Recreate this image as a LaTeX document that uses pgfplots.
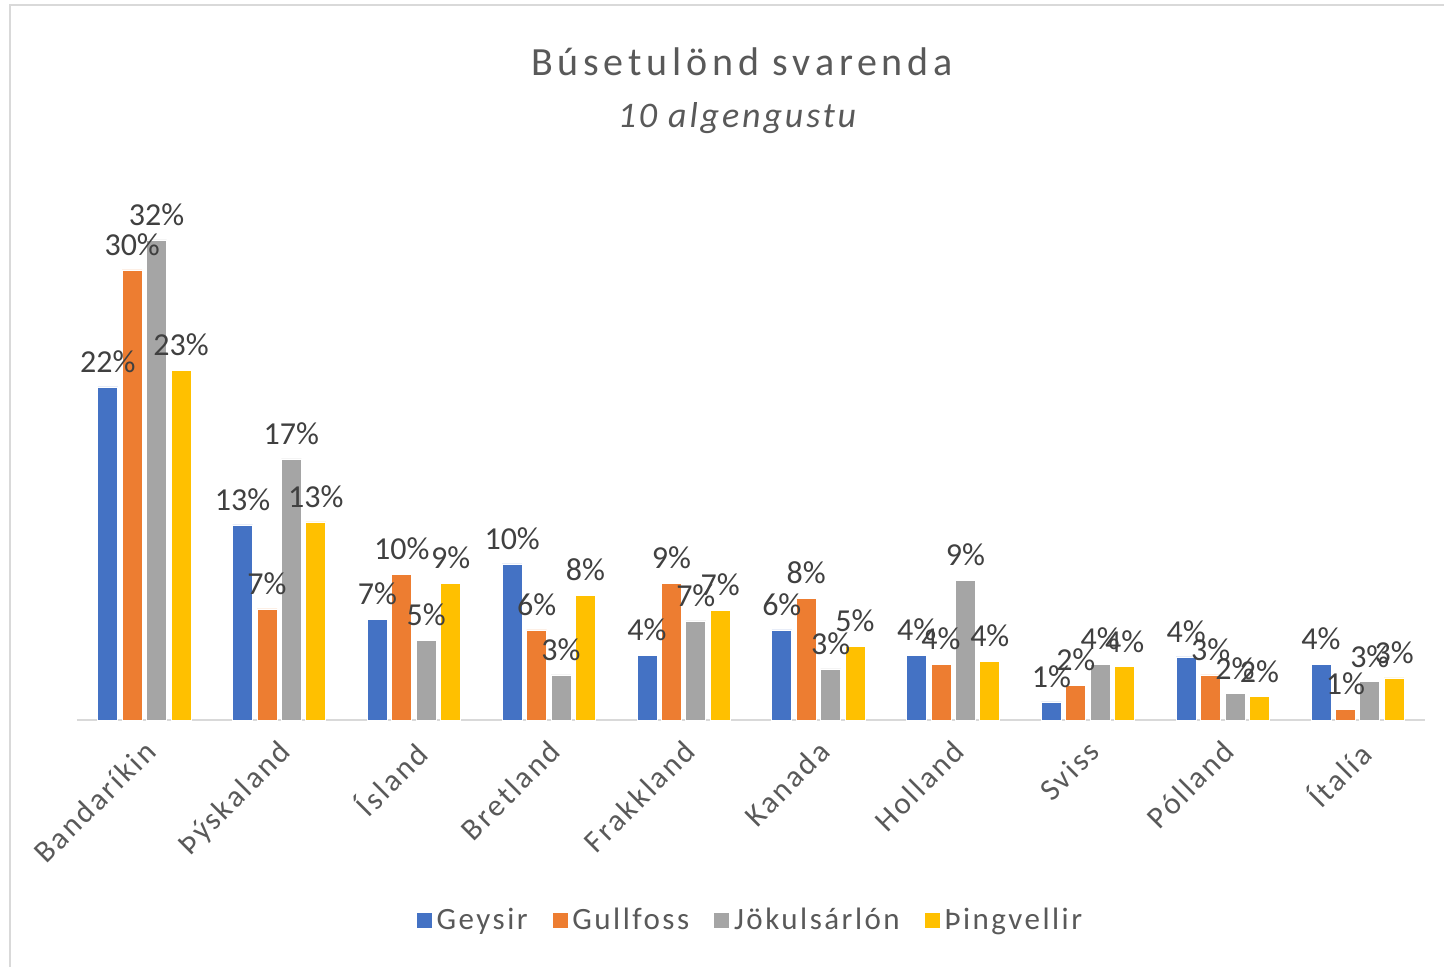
\documentclass[border=0pt]{standalone}
\usepackage{fontspec}
\setmainfont{Carlito}
\newfontfamily\spaced[LetterSpace=8]{Carlito}
\newfontfamily\titlefont[LetterSpace=12]{Carlito}
\usepackage{pgfplots}
\pgfplotsset{compat=1.18}
\usepackage{pgfplotstable}
\definecolor{cBlue}{HTML}{4472C4}
\definecolor{cOrange}{HTML}{ED7D31}
\definecolor{cGray}{HTML}{A5A5A5}
\definecolor{cYellow}{HTML}{FFC000}
\definecolor{txt}{HTML}{595959}
\definecolor{lbl}{HTML}{404040}
\definecolor{axl}{HTML}{D9D9D9}

\pgfplotstableread{
x geysir gullfoss jokul thing
0 22.2 30.0 32.0 23.3
1 13.0 7.4 17.4 13.2
2 6.7 9.7 5.3 9.1
3 10.4 6.0 3.0 8.3
4 4.3 9.1 6.6 7.3
5 6.0 8.1 3.4 4.9
6 4.3 3.7 9.3 3.9
7 1.2 2.3 3.7 3.55
8 4.2 3.0 1.75 1.55
9 3.7 0.7 2.55 2.8
}\data

\begin{document}
\begin{tikzpicture}
\begin{axis}[
  scale only axis, width=674pt, height=270pt,
  xmin=-0.5, xmax=9.5, ymin=0, ymax=36,
  clip=false,
  ybar=2.2pt, bar width=10pt,
  axis x line*=bottom, axis y line=none,
  x axis line style={axl, line width=1.4pt, -},
  xtick=data, major tick length=0pt,
  xticklabels={Bandaríkin,Þýskaland,Ísland,Bretland,Frakkland,Kanada,Holland,Sviss,Pólland,Ítalía},
  xticklabel style={xshift=-1pt, yshift=-9pt, rotate=45, anchor=north east, inner sep=0pt,
     font=\fontsize{15.5}{18}\selectfont\spaced, text=txt},
  nodes near coords={\pgfmathprintnumber[fixed,precision=0,assume math mode=true]{\pgfplotspointmeta}\%},
  every node near coord/.append style={font=\fontsize{16}{19}\selectfont, text=lbl, inner sep=1pt, anchor=south, yshift=6pt},
  legend columns=4,
  legend style={at={(axis description cs:0.5,0)}, anchor=center, yshift=-100pt, draw=none,
     font=\fontsize{15.5}{18}\selectfont\spaced, text=txt,
     /tikz/every even column/.append style={column sep=10pt}},
  legend image code/.code={\fill[#1] (0pt,-4pt) rectangle (8pt,4pt);},
]
\addplot[fill=cBlue, draw=white, line width=0.4pt] table[x=x,y=geysir]{\data};
\addplot[fill=cOrange, draw=white, line width=0.4pt] table[x=x,y=gullfoss]{\data};
\addplot[fill=cGray, draw=white, line width=0.4pt] table[x=x,y=jokul]{\data};
\addplot[fill=cYellow, draw=white, line width=0.4pt] table[x=x,y=thing]{\data};
\legend{Geysir,Gullfoss,Jökulsárlón,Þingvellir}
\coordinate (A) at (rel axis cs:0,0);
\end{axis}
\pgfresetboundingbox
\useasboundingbox ([shift={(-38.5pt,360pt)}]A) rectangle ([shift={(683.5pt,-123.5pt)}]A);
\draw[axl, line width=1pt] ([shift={(-33.5pt,-123.5pt)}]A) -- ([shift={(-33.5pt,357.5pt)}]A) -- ([shift={(683.5pt,357.5pt)}]A);
\node[txt, font=\fontsize{20}{24}\selectfont\titlefont] at ([shift={(332.5pt,329pt)}]A) {Búsetulönd svarenda};
\node[txt, font=\fontsize{18}{21}\selectfont\spaced\itshape] at ([shift={(330pt,301pt)}]A) {10 algengustu};
\end{tikzpicture}
\end{document}
